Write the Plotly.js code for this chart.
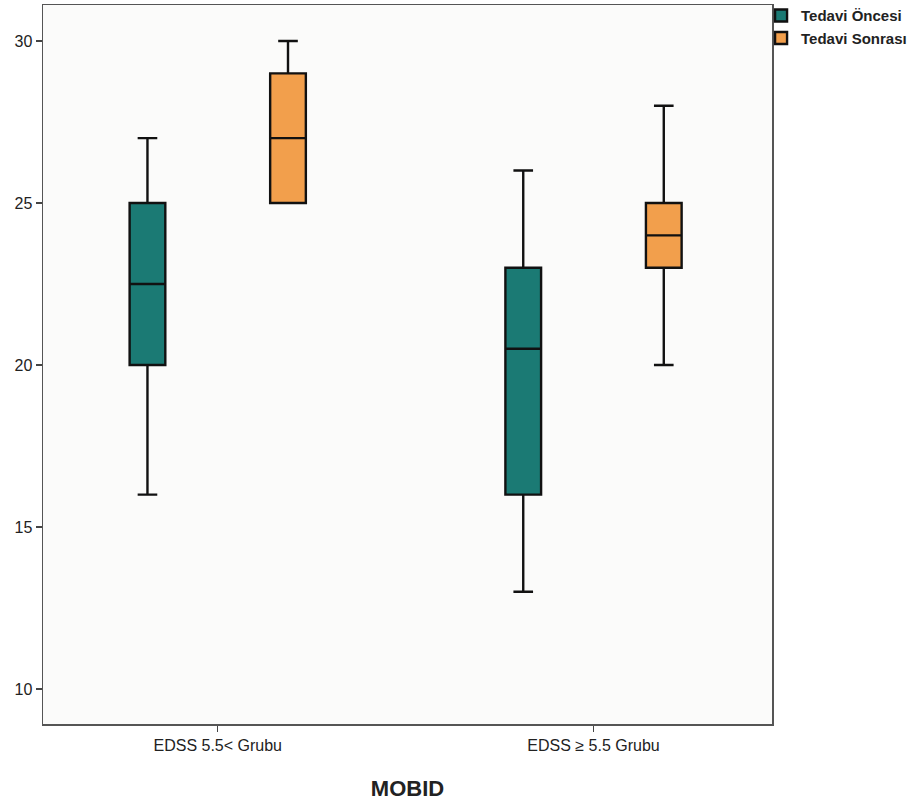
<!DOCTYPE html>
<html>
<head>
<meta charset="utf-8">
<script src="https://cdn.plot.ly/plotly-3.0.1.min.js"></script>
<style>html,body{margin:0;padding:0;background:#fff;}#chart{width:919px;height:809px;}</style>
</head>
<body>
<div id="chart"></div>
<script>
var categories = ["EDSS 5.5< Grubu", "EDSS \u2265 5.5 Grubu"];
var seriesNames = ["Tedavi Öncesi", "Tedavi Sonrası"];
// [group1, group2]
var onceLower = [16, 13];
var onceQ1 = [20, 16];
var onceMedian = [22.5, 20.5];
var onceQ3 = [25, 23];
var onceUpper = [27, 26];

var sonraLower = [25, 20];
var sonraQ1 = [25, 23];
var sonraMedian = [27, 24];
var sonraQ3 = [29, 25];
var sonraUpper = [30, 28];

var yTicks = [10, 15, 20, 25, 30];

function boxTrace(name, color, lo, q1, med, q3, up) {
  return {
    type: 'box', name: name, x: categories,
    lowerfence: lo, q1: q1, median: med, q3: q3, upperfence: up,
    fillcolor: color,
    line: {color: '#111', width: 2.4},
    whiskerwidth: 0.55,
    hoverinfo: 'skip'
  };
}

var data = [
  boxTrace(seriesNames[0], '#1b7a74', onceLower, onceQ1, onceMedian, onceQ3, onceUpper),
  boxTrace(seriesNames[1], '#f29f4c', sonraLower, sonraQ1, sonraMedian, sonraQ3, sonraUpper)
];

var layout = {
  width: 919, height: 809,
  margin: {l: 43, r: 147, t: 5, b: 85, autoexpand: false},
  paper_bgcolor: '#ffffff',
  plot_bgcolor: '#fbfbfa',
  boxmode: 'group',
  boxgap: 0.252,
  boxgroupgap: 0.746,
  font: {family: 'Liberation Sans, Arial, sans-serif', color: '#222'},
  xaxis: {
    type: 'category',
    range: [-0.465, 1.475],
    showgrid: false, zeroline: false,
    showline: true, mirror: true, linecolor: '#555', linewidth: 1.5,
    ticks: 'outside', ticklen: 6, tickcolor: '#444', tickwidth: 1.2,
    tickfont: {size: 16, color: '#222'},
    title: {text: 'MOBID', font: {size: 22, color: '#222', family: 'Liberation Sans, Arial, sans-serif', weight: 'bold'}, standoff: 28}
  },
  yaxis: {
    range: [8.92, 31.11],
    tickvals: yTicks,
    showgrid: false, zeroline: false,
    showline: true, mirror: true, linecolor: '#555', linewidth: 1.5,
    ticks: 'outside', ticklen: 6, tickcolor: '#444', tickwidth: 1.2,
    tickfont: {size: 16, color: '#222'}
  },
  showlegend: true,
  legend: {
    x: 0.985, xanchor: 'left', y: 1.008, yanchor: 'top',
    bgcolor: 'rgba(0,0,0,0)',
    font: {size: 15, color: '#222', weight: 'bold'},
    itemwidth: 30, tracegroupgap: 0
  }
};

Plotly.newPlot('chart', data, layout, {displayModeBar: false, staticPlot: true});
</script>
</body>
</html>
